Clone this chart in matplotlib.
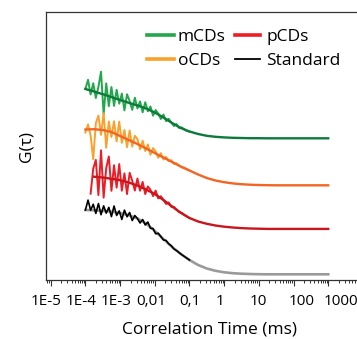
import matplotlib
matplotlib.use("Agg")
import matplotlib.pyplot as plt
import numpy as np
from matplotlib.lines import Line2D
from matplotlib.ticker import LogLocator, FixedLocator, NullFormatter
from matplotlib.transforms import ScaledTranslation

plt.rcParams['font.family'] = ['Open Sans', 'DejaVu Sans']

# fit curves, log10(tau / ms) on a quarter-decade grid
fit_lg = [-4.0, -3.75, -3.5, -3.25, -3.0, -2.75, -2.5, -2.25, -2.0, -1.75,
          -1.5, -1.25, -1.0, -0.75, -0.5, -0.25, 0.0, 0.25, 0.5, 0.75,
          1.0, 1.25, 1.5, 1.75, 2.0, 2.25, 2.5, 2.75, 3.0]
fit_m = [1.910, 1.885, 1.858, 1.830, 1.800, 1.772, 1.745, 1.715, 1.675, 1.625,
         1.570, 1.520, 1.485, 1.460, 1.442, 1.432, 1.426, 1.422, 1.420, 1.418,
         1.418, 1.417, 1.417, 1.417, 1.417, 1.417, 1.417, 1.417, 1.417]
fit_o = [1.505, 1.508, 1.500, 1.480, 1.440, 1.400, 1.360, 1.315, 1.270, 1.225,
         1.180, 1.135, 1.095, 1.055, 1.020, 0.995, 0.978, 0.966, 0.958, 0.953,
         0.950, 0.948, 0.947, 0.947, 0.947, 0.947, 0.947, 0.947, 0.947]
fit_lg_p = fit_lg[1:]
fit_p = [1.033, 1.025, 1.012, 0.998, 0.975, 0.945, 0.905, 0.860, 0.800,
         0.735, 0.672, 0.620, 0.585, 0.562, 0.545, 0.533, 0.525, 0.519, 0.515,
         0.513, 0.511, 0.511, 0.511, 0.511, 0.511, 0.511, 0.511, 0.511]
fit_s = [0.700, 0.697, 0.692, 0.684, 0.670, 0.648, 0.615, 0.565, 0.490, 0.410,
         0.330, 0.260, 0.200, 0.150, 0.115, 0.092, 0.077, 0.068, 0.063, 0.060,
         0.058, 0.057, 0.057, 0.057, 0.057, 0.057, 0.057, 0.057, 0.057]

# measured data: deviation from the fit, log grid -4.0 .. -1.0 step 0.075
data_lg = np.round(np.arange(41) * 0.075 - 4.0, 3)
res_m = [0.0, 0.10, -0.04, 0.08, -0.06, 0.06, 0.22, -0.20, 0.12, -0.10, 0.10,
         -0.08, 0.09, -0.04, 0.07, -0.09, 0.08, 0.02, -0.06, 0.07, -0.03,
         0.05, -0.05, 0.06, -0.02, 0.04, -0.04, 0.03, 0.01, -0.03, 0.03,
         -0.02, 0.02, 0.0, -0.02, 0.015, -0.01, 0.01, 0.0, -0.005, 0.0]
res_o = [-0.03, 0.05, -0.06, -0.30, 0.06, 0.14, -0.05, 0.17, -0.17, 0.10, -0.05,
         0.12, -0.07, 0.14, -0.06, 0.08, -0.08, 0.10, -0.05, 0.07, 0.05,
         -0.04, 0.06, -0.03, 0.05, -0.04, 0.04, 0.02, -0.03, 0.03, -0.02,
         0.02, -0.01, 0.015, -0.01, 0.01, 0.0, -0.005, 0.005, 0.0, 0.0]
res_p = [np.nan, np.nan, -0.17, 0.08, 0.17, -0.18, 0.27, -0.20, 0.10, 0.22, -0.12,
         0.14, -0.08, 0.16, -0.10, 0.08, -0.12, 0.10, 0.03, -0.06, 0.07,
         -0.04, 0.06, -0.05, 0.04, 0.02, -0.03, 0.04, -0.02, 0.02, 0.0,
         -0.02, 0.015, -0.01, 0.01, 0.0, -0.005, 0.005, 0.0, 0.0, 0.0]
res_s = [0.0, 0.10, 0.0, 0.06, -0.03, 0.07, -0.04, 0.05, -0.02, 0.04, -0.05,
         0.06, -0.03, 0.02, -0.06, 0.04, -0.02, 0.03, -0.04, 0.02, 0.0,
         -0.03, 0.02, -0.02, 0.03, -0.01, 0.01, -0.02, 0.01, 0.0, -0.01,
         0.01, 0.0, 0.005, -0.005, 0.0, 0.0, 0.0, 0.0, 0.0, 0.0]

tick_exp = [-5, -4, -3, -2, -1, 0, 1, 2, 3]
tick_labels = ['1E-5', '1E-4', '1E-3', '0,01', '0,1', '1', '10', '100', '1000']
label_shift_px = [-5, -4, -4, -4, 0, -4, 0, 8, 13]

fig = plt.figure(figsize=(3.57, 3.39), dpi=100)
ax = fig.add_axes([0.129, 0.174, 0.871, 0.7906])

def data_curve(fl, fv, res):
    return 10.0 ** data_lg, np.interp(data_lg, fl, fv) + np.array(res)

t = 10.0 ** np.array(fit_lg)
tp = 10.0 ** np.array(fit_lg_p)

# mCDs
x, y = data_curve(fit_lg, fit_m, res_m)
ax.plot(x, y, color='#22a84a', lw=1.4)
ax.plot(t, fit_m, color='#0b7a3b', lw=1.7)
# oCDs
x, y = data_curve(fit_lg, fit_o, res_o)
ax.plot(x, y, color='#f9a12a', lw=1.4)
ax.plot(t, fit_o, color='#f26522', lw=1.7)
# pCDs
x, y = data_curve(fit_lg_p, fit_p, res_p)
ax.plot(x, y, color='#ee1c25', lw=1.4)
ax.plot(tp, fit_p, color='#c8161e', lw=1.7)
# Standard
ax.plot(t, fit_s, color='#9a9a9a', lw=1.9)
x, y = data_curve(fit_lg, fit_s, res_s)
ax.plot(x, y, color='black', lw=1.2)

ax.set_xscale('log')
ax.set_xlim(10 ** -5.135, 10 ** 3.83)
ax.set_ylim(0, 2.68)

ax.xaxis.set_major_locator(FixedLocator([10.0 ** e for e in tick_exp]))
ax.set_xticklabels(tick_labels)
ax.xaxis.set_minor_locator(LogLocator(base=10, subs=np.arange(2, 10), numticks=30))
ax.xaxis.set_minor_formatter(NullFormatter())
ax.tick_params(axis='x', which='major', direction='out', length=4, width=0.8,
               labelsize=11, pad=6, color='#333333')
ax.tick_params(axis='x', which='minor', direction='out', length=2.5, width=0.7,
               color='#333333')
ax.set_yticks([])
for lab, dx in zip(ax.get_xticklabels(), label_shift_px):
    lab.set_transform(lab.get_transform() + ScaledTranslation(dx / 100, 0, fig.dpi_scale_trans))

for side in ['left', 'top', 'bottom']:
    ax.spines[side].set_color('#333333')
    ax.spines[side].set_linewidth(0.9)
ax.spines['right'].set_visible(False)

ax.set_xlabel('Correlation Time (ms)', fontsize=12.5, labelpad=9)
ax.xaxis.label.set_x(0.527)
ax.set_ylabel('G(τ)', fontsize=12.5, labelpad=8)

leg1 = ax.legend([Line2D([], [], color='#22a84a', lw=2.6),
                  Line2D([], [], color='#f9a12a', lw=2.6)],
                 ['mCDs', 'oCDs'], frameon=False, fontsize=12.5,
                 loc='upper left', bbox_to_anchor=(0.411, 0.916),
                 bbox_transform=fig.transFigure, borderpad=0, borderaxespad=0,
                 handlelength=1.55, handletextpad=0.25, labelspacing=0.45)
ax.add_artist(leg1)
ax.legend([Line2D([], [], color='#ee1c25', lw=2.6),
           Line2D([], [], color='black', lw=1.3)],
          ['pCDs', 'Standard'], frameon=False, fontsize=12.5,
          loc='upper left', bbox_to_anchor=(0.658, 0.916),
          bbox_transform=fig.transFigure, borderpad=0, borderaxespad=0,
          handlelength=1.45, handletextpad=0.35, labelspacing=0.45)

fig.savefig('out.png', dpi=100)
